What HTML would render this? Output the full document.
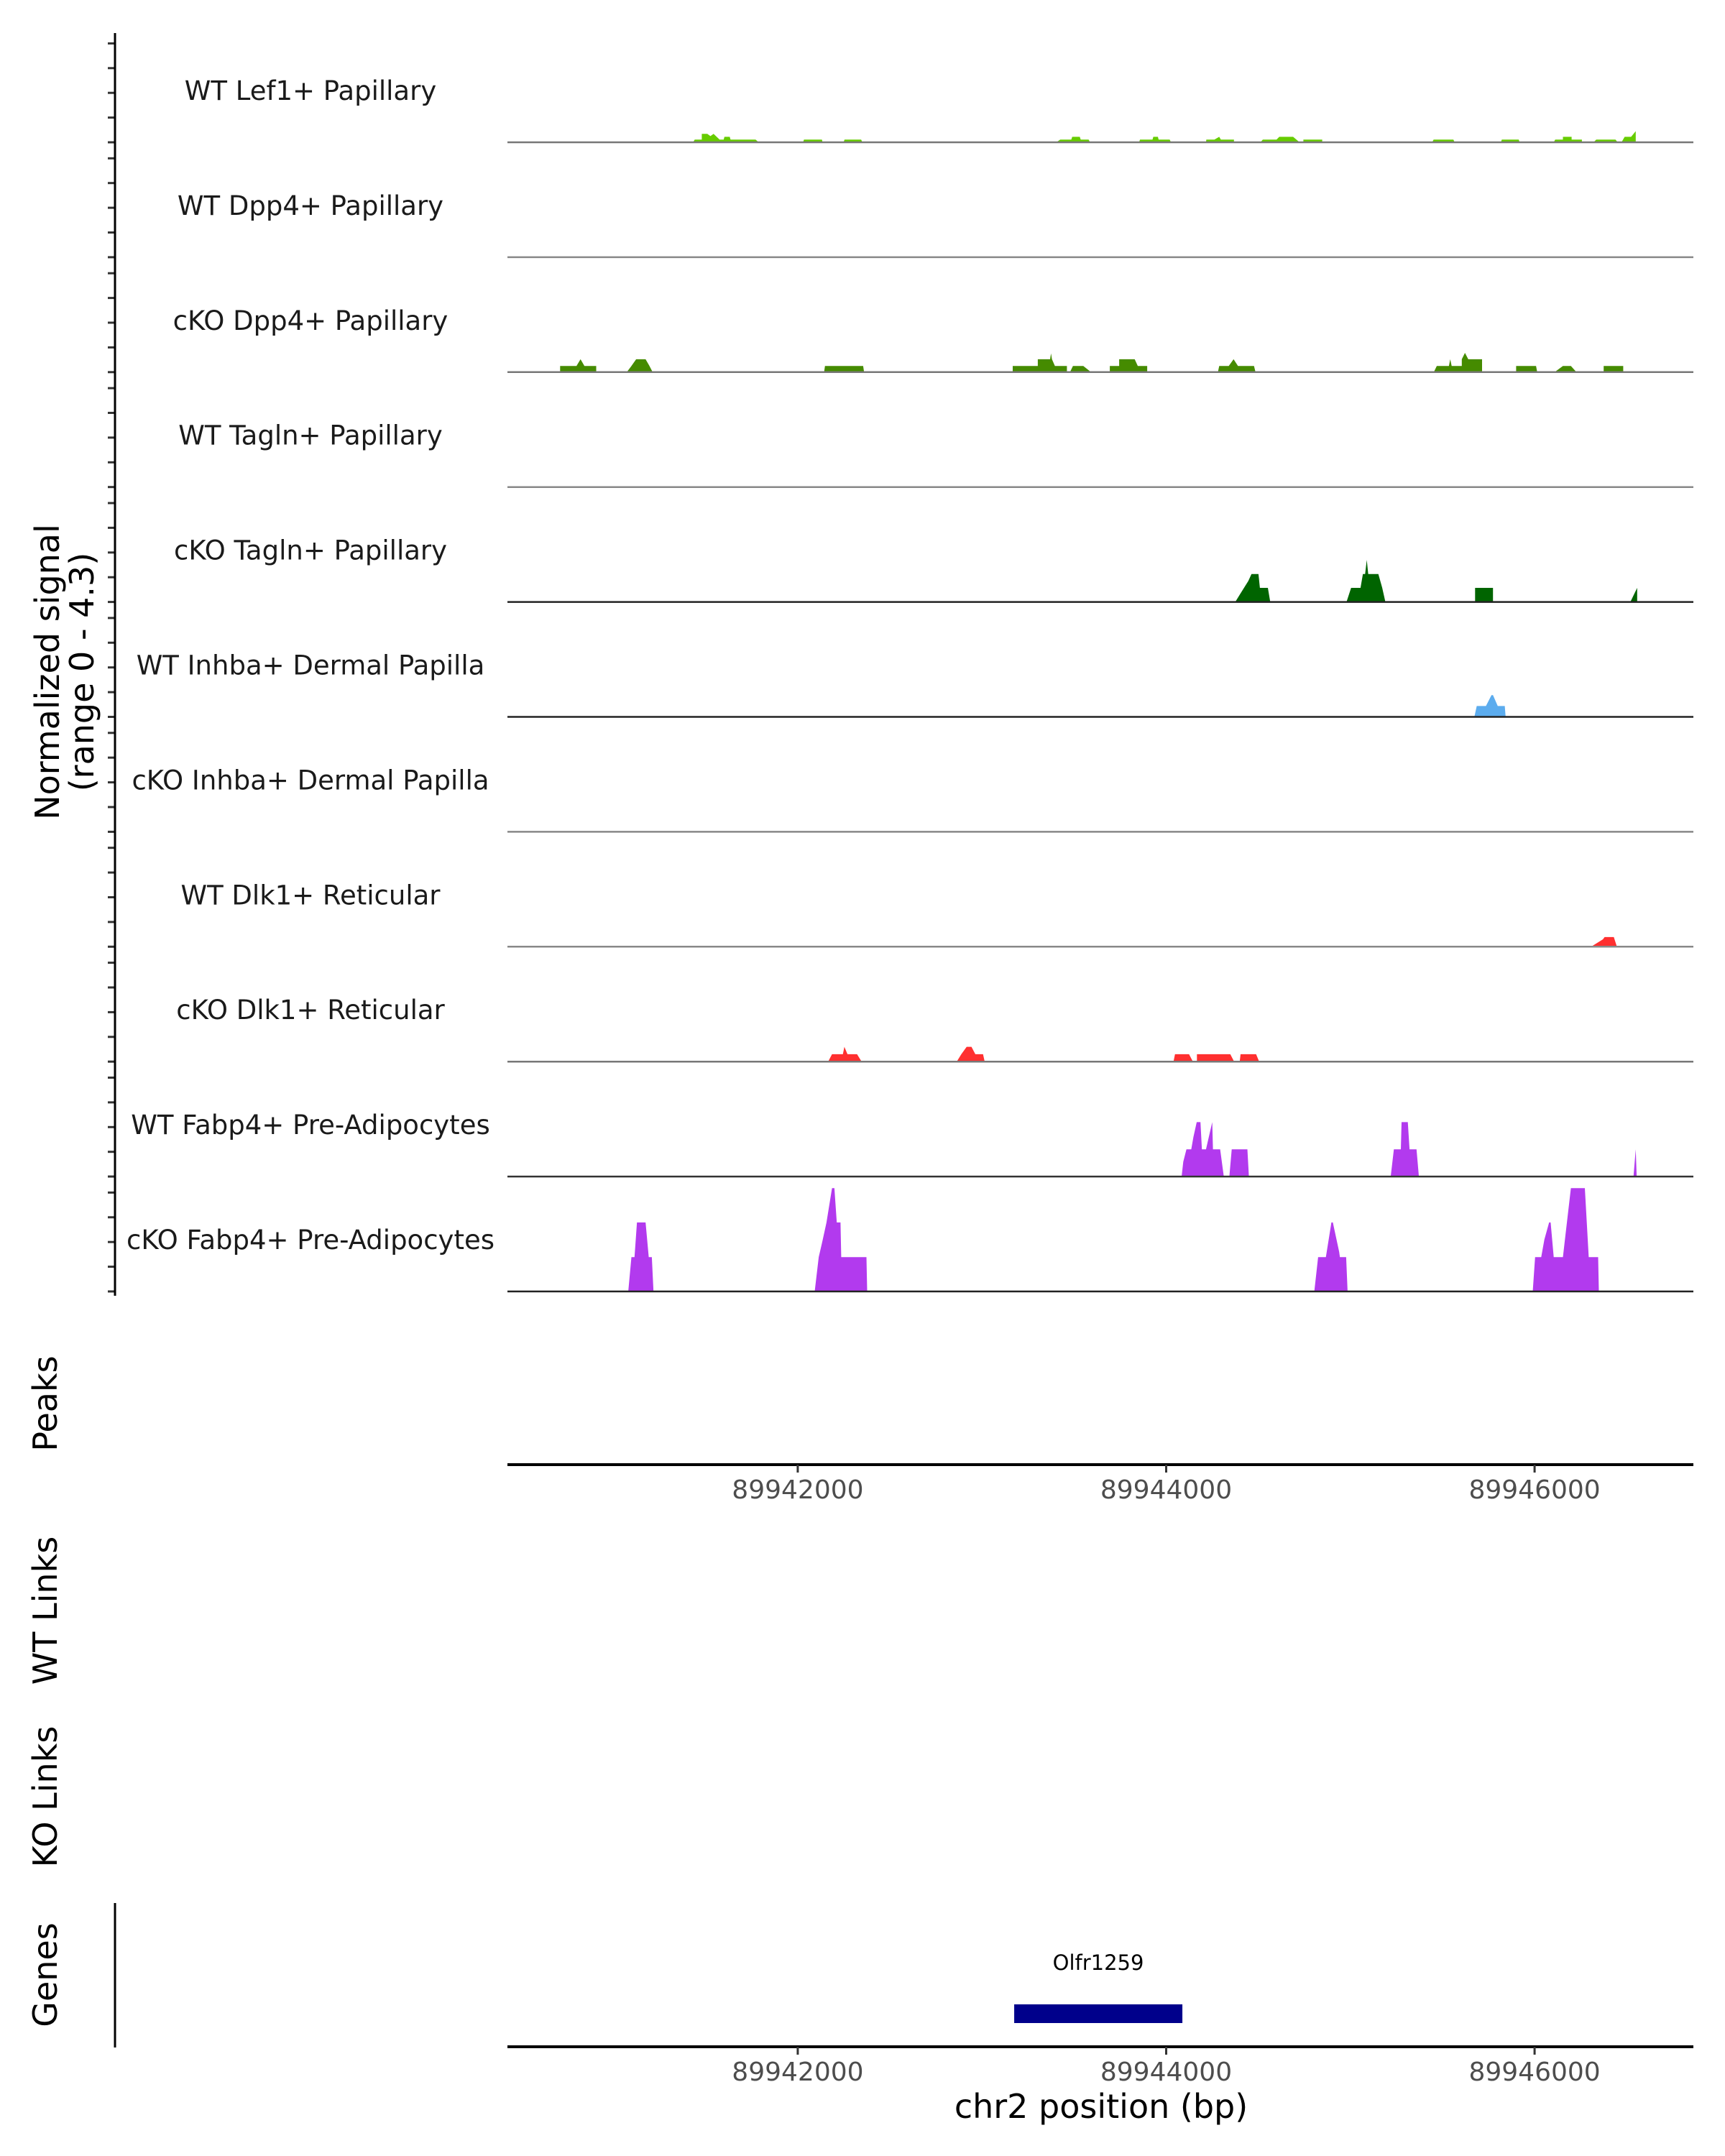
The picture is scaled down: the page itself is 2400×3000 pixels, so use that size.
<!DOCTYPE html>
<html>
<head>
<meta charset="utf-8">
<style>
html,body{margin:0;padding:0;background:#fff;}
svg{display:block;}
text{font-family:"DejaVu Sans","Liberation Sans",sans-serif;}
</style>
</head>
<body>
<svg id="chart" width="2400" height="3000" viewBox="0 0 2400 3000" xmlns="http://www.w3.org/2000/svg">
  <rect x="0" y="0" width="2400" height="3000" fill="#ffffff"/>
  <g id="tracks"></g>
  <g id="axes"></g>
  <text x="0" y="0" transform="translate(82,935) rotate(-90)" text-anchor="middle" font-size="46" fill="#000">Normalized signal</text>
  <text x="0" y="0" transform="translate(130,935) rotate(-90)" text-anchor="middle" font-size="46" fill="#000">(range 0 - 4.3)</text>
  <text x="0" y="0" transform="translate(79,1953) rotate(-90)" text-anchor="middle" font-size="46" fill="#000">Peaks</text>
  <text x="0" y="0" transform="translate(79,2241) rotate(-90)" text-anchor="middle" font-size="46" fill="#000">WT Links</text>
  <text x="0" y="0" transform="translate(79,2500) rotate(-90)" text-anchor="middle" font-size="46" fill="#000">KO Links</text>
  <text x="0" y="0" transform="translate(79,2748) rotate(-90)" text-anchor="middle" font-size="46" fill="#000">Genes</text>
  <line x1="160" y1="2648" x2="160" y2="2849" stroke="#000" stroke-width="3"/>
  <text x="1532" y="2947" text-anchor="middle" font-size="46" fill="#000">chr2 position (bp)</text>
</svg>
<script>
const trackNames = ["WT Lef1+ Papillary","WT Dpp4+ Papillary","cKO Dpp4+ Papillary","WT Tagln+ Papillary","cKO Tagln+ Papillary","WT Inhba+ Dermal Papilla","cKO Inhba+ Dermal Papilla","WT Dlk1+ Reticular","cKO Dlk1+ Reticular","WT Fabp4+ Pre-Adipocytes","cKO Fabp4+ Pre-Adipocytes"];
const trackColors = ["#66cc00","#66cc00","#458b00","#006400","#006400","#5cacee","#5cacee","#ff3030","#ff3030","#b23aee","#b23aee"];
const xTicks = [89942000, 89944000, 89946000];
const xDomain = [89940424, 89946862];
const yMax = 4.3;
const gene = {name: "Olfr1259", start: 89943175, end: 89944088};

const wtLef1 = [[89941432,0],[89941441,.11],[89941479,.11],[89941479,.34],[89941509,.34],[89941526,.25],[89941543,.34],[89941576,.11],[89941598,.11],[89941602,.22],[89941631,.22],[89941635,.11],[89941771,.11],[89941788,0],
 [89942029,0],[89942034,.11],[89942131,.11],[89942135,0],[89942249,0],[89942254,.11],[89942344,.11],[89942351,0],
 [89943404,0],[89943425,.11],[89943485,.11],[89943490,.22],[89943531,.22],[89943536,.11],[89943579,.11],[89943587,0],
 [89943853,0],[89943858,.11],[89943926,.11],[89943930,.22],[89943955,.22],[89943959,.11],[89944019,.11],[89944026,0],
 [89944216,0],[89944218,.11],[89944262,.11],[89944288,.22],[89944297,.11],[89944368,.11],[89944368,0],
 [89944512,0],[89944525,.11],[89944599,.11],[89944614,.22],[89944689,.22],[89944724,0],
 [89944745,0],[89944745,.11],[89944847,.11],[89944847,0],[89945444,0],[89945452,.11],[89945559,.11],[89945566,0],
 [89945817,0],[89945822,.11],[89945914,.11],[89945919,0],
 [89946104,0],[89946112,.11],[89946154,.11],[89946154,.22],[89946201,.22],[89946201,.11],[89946257,.11],[89946257,0],
 [89946320,0],[89946335,.11],[89946439,.11],[89946451,0],[89946472,0],[89946489,.22],[89946524,.22],[89946549,.45],[89946549,0]];
const wtDpp4 = [];
const ckoDpp4 = [[89940710,0],[89940710,.25],[89940799,.25],[89940821,.52],[89940842,.25],[89940906,.25],[89940906,0],
 [89941072,0],[89941097,.25],[89941123,.52],[89941174,.52],[89941195,.25],[89941212,0],
 [89942143,0],[89942148,.25],[89942355,.25],[89942360,0],
 [89943167,0],[89943167,.25],[89943303,.25],[89943303,.52],[89943370,.52],[89943375,.76],[89943380,.52],[89943396,.25],[89943461,.25],[89943461,0],
 [89943478,0],[89943494,.25],[89943550,.25],[89943592,0],
 [89943694,0],[89943694,.25],[89943745,.25],[89943745,.52],[89943829,.52],[89943846,.25],[89943897,.25],[89943897,0],
 [89944281,0],[89944288,.25],[89944340,.25],[89944366,.52],[89944390,.25],[89944477,.25],[89944485,0],
 [89945453,0],[89945469,.25],[89945535,.25],[89945542,.52],[89945550,.25],[89945605,.25],[89945605,.52],[89945622,.78],[89945640,.52],[89945664,.52],[89945715,.52],[89945715,0],
 [89945900,0],[89945900,.25],[89946008,.25],[89946014,0],
 [89946109,0],[89946154,.25],[89946197,.25],[89946227,0],
 [89946375,0],[89946375,.25],[89946481,.25],[89946481,0]];
const wtTagln = [];
const ckoTagln = [[89944375,0],[89944400,.3],[89944446,.85],[89944463,1.13],[89944501,1.13],[89944509,.57],[89944552,.57],[89944565,0],
 [89944979,0],[89945004,.57],[89945055,.57],[89945068,1.13],[89945080,1.13],[89945089,1.7],[89945097,1.13],[89945152,1.13],[89945173,.57],[89945190,0],
 [89945677,0],[89945677,.57],[89945774,.57],[89945774,0],
 [89946520,0],[89946557,.57],[89946557,0]];
const wtInhba = [[89945673,0],[89945686,.44],[89945736,.44],[89945766,.88],[89945774,.88],[89945800,.44],[89945838,.44],[89945843,0]];
const ckoInhba = [];
const wtDlk1 = [[89946307,0],[89946371,.3],[89946380,.39],[89946430,.39],[89946447,0]];
const ckoDlk1 = [[89942165,0],[89942186,.3],[89942245,.3],[89942253,.6],[89942270,.3],[89942322,.3],[89942347,0],
 [89942863,0],[89942888,.3],[89942917,.6],[89942943,.6],[89942964,.3],[89943006,.3],[89943015,0],
 [89944040,0],[89944048,.3],[89944124,.3],[89944145,0],
 [89944167,0],[89944167,.3],[89944348,.3],[89944369,0],
 [89944399,0],[89944404,.3],[89944488,.3],[89944505,0]];
const wtFabp4 = [[89944084,0],[89944093,.6],[89944110,1.1],[89944136,1.1],[89944148,1.6],[89944166,2.2],[89944186,2.2],[89944194,1.1],[89944216,1.1],[89944250,2.2],[89944254,1.1],[89944293,1.1],[89944313,0],
 [89944343,0],[89944356,1.1],[89944441,1.1],[89944449,0],
 [89945219,0],[89945236,1.1],[89945274,1.1],[89945278,2.2],[89945312,2.2],[89945321,1.1],[89945359,1.1],[89945372,0],
 [89946537,0],[89946549,1.1],[89946554,0]];
const ckoFabp4 = [[89941080,0],[89941097,1.39],[89941114,1.39],[89941127,2.79],[89941174,2.79],[89941191,1.39],[89941208,1.39],[89941217,0],
 [89942092,0],[89942114,1.39],[89942135,2.07],[89942156,2.79],[89942186,4.18],[89942199,4.18],[89942212,2.79],[89942232,2.79],[89942236,1.39],[89942373,1.39],[89942377,0],
 [89944804,0],[89944825,1.39],[89944867,1.39],[89944897,2.79],[89944905,2.79],[89944939,1.6],[89944943,1.39],[89944977,1.39],[89944985,0],
 [89945990,0],[89946003,1.39],[89946036,1.39],[89946053,2.1],[89946079,2.79],[89946087,2.79],[89946104,1.39],[89946154,1.39],[89946163,2.0],[89946197,4.18],[89946273,4.18],[89946294,1.39],[89946345,1.39],[89946349,0]];
const trackData = [wtLef1, wtDpp4, ckoDpp4, wtTagln, ckoTagln, wtInhba, ckoInhba, wtDlk1, ckoDlk1, wtFabp4, ckoFabp4];
const baselineColors = ["#777","#888","#777","#888","#222","#222","#888","#888","#777","#333","#222"];

const NS = "http://www.w3.org/2000/svg";
const X0 = 706, X1 = 2356;
const BASE0 = 198, STEP = 159.9, UNIT = 34.4;
function xScale(bp){ return X0 + (bp - xDomain[0]) / (xDomain[1] - xDomain[0]) * (X1 - X0); }
function yScale(v, i){ return BASE0 + i*STEP - v*UNIT; }
function mk(tag, attrs){ const e = document.createElementNS(NS, tag); for (const k in attrs) e.setAttribute(k, attrs[k]); return e; }

const tracksG = document.getElementById('tracks');
const axesG = document.getElementById('axes');

trackData.forEach((pts, i) => {
  const base = yScale(0, i);
  const lbl = mk('text', {x: 432, y: base - 59, 'text-anchor': 'middle', 'font-size': 37, fill: '#1a1a1a'});
  
  
  lbl.textContent = trackNames[i];
  tracksG.appendChild(lbl);
  if (pts.length) {
    let d = 'M' + xScale(pts[0][0]).toFixed(1) + ',' + base.toFixed(1);
    pts.forEach(p => { d += ' L' + xScale(p[0]).toFixed(1) + ',' + yScale(p[1], i).toFixed(1); });
    d += ' L' + xScale(pts[pts.length-1][0]).toFixed(1) + ',' + base.toFixed(1) + ' Z';
    const area = mk('path', {d: d, fill: trackColors[i], stroke: 'none'});
    
    
    tracksG.appendChild(area);
  }
  const bl = mk('line', {x1: X0, x2: X1, y1: base, y2: base, stroke: baselineColors[i], 'stroke-width': 2.5});
  
  
  tracksG.appendChild(bl);
  for (let k = 0; k <= 4; k++) {
    const ty = yScale(k, i);
    const t = mk('line', {x1: 150, x2: 160, y1: ty, y2: ty, stroke: '#333', 'stroke-width': 3});
    
    
    axesG.appendChild(t);
  }
});

const yAxis = mk('line', {x1: 160, x2: 160, y1: 46, y2: 1803, stroke: '#000', 'stroke-width': 3});


axesG.appendChild(yAxis);

[[2038, 2072], [2848, 2882]].forEach(([ay, ly]) => {
  const ax = mk('line', {x1: X0, x2: X1, y1: ay, y2: ay, stroke: '#000', 'stroke-width': 4});
  
  
  axesG.appendChild(ax);
  xTicks.forEach(tv => {
    const tx = xScale(tv);
    const tk = mk('line', {x1: tx, x2: tx, y1: ay, y2: ay + 11, stroke: '#333', 'stroke-width': 3});
    
    
    axesG.appendChild(tk);
    const tl = mk('text', {x: tx, y: ly + 13, 'text-anchor': 'middle', 'font-size': 36, fill: '#4d4d4d'});
    
    
    tl.textContent = String(tv);
    axesG.appendChild(tl);
  });
});

const gx0 = xScale(gene.start), gx1 = xScale(gene.end);
const gbar = mk('rect', {x: gx0, y: 2789, width: gx1 - gx0, height: 26, fill: '#00008b'});


axesG.appendChild(gbar);
const glbl = mk('text', {x: (gx0 + gx1) / 2, y: 2741, 'text-anchor': 'middle', 'font-size': 29, fill: '#000'});


glbl.textContent = gene.name;
axesG.appendChild(glbl);
</script>
</body>
</html>
